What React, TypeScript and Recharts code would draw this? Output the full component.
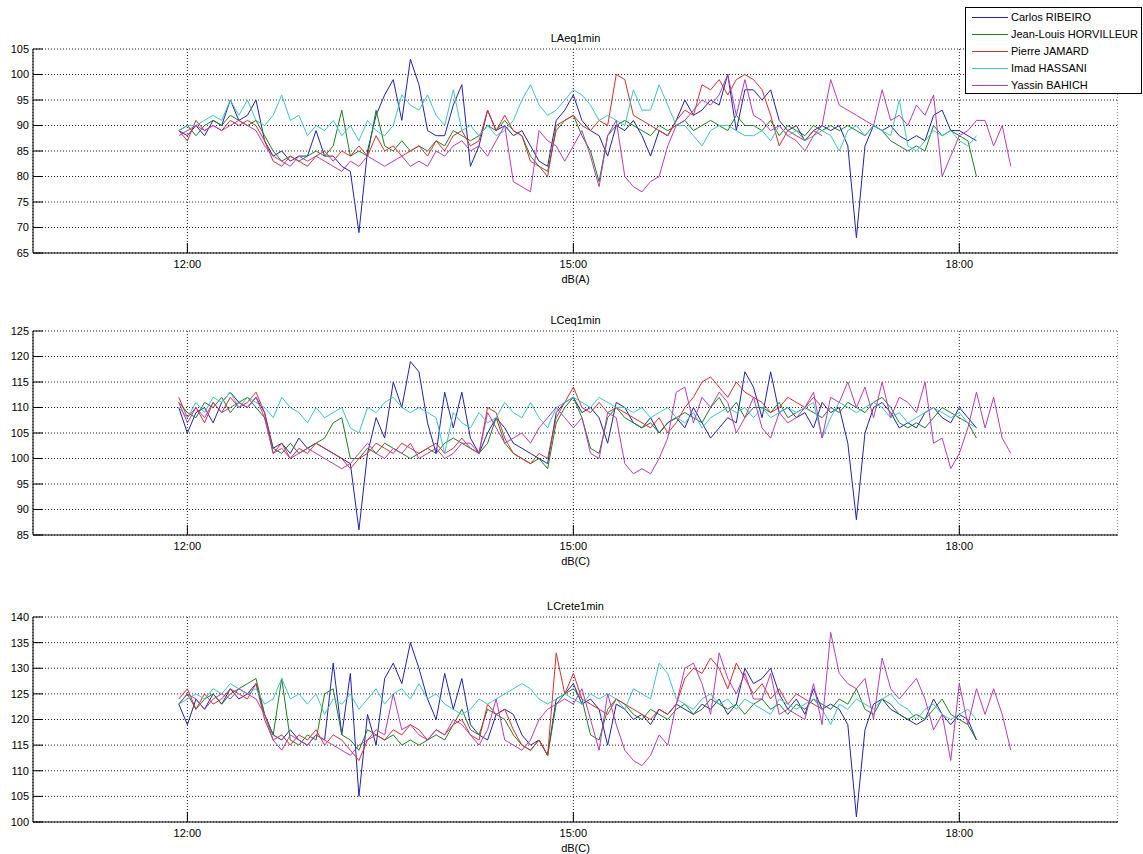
import React from "react";
import { LineChart, Line, XAxis, YAxis, CartesianGrid } from "recharts";

// time axis: minutes since midnight, one reading every 4 min from 11:56
const START_MIN = 716;
const STEP_MIN = 4;
const X_TICKS = [720, 900, 1080];
const X_DOMAIN = [648, 1154];

const LAEQ_TICKS = [65, 70, 75, 80, 85, 90, 95, 100, 105];
const LCEQ_TICKS = [85, 90, 95, 100, 105, 110, 115, 120, 125];
const LCRETE_TICKS = [100, 105, 110, 115, 120, 125, 130, 135, 140];

const SERIES = [
  { key: "carlos", name: "Carlos RIBEIRO", color: "#2222b0" },
  { key: "jeanLouis", name: "Jean-Louis HORVILLEUR", color: "#1f7f1f" },
  { key: "pierre", name: "Pierre JAMARD", color: "#d83030" },
  { key: "imad", name: "Imad HASSANI", color: "#3fc4c4" },
  { key: "yassin", name: "Yassin BAHICH", color: "#b93cb9" },
];

// LAeq1min
const laeqCarlos = [
  89, 88, 90, 88, 91, 90, 95, 91, 92, 95, 87,
  84, 85, 83, 84, 84, 89, 84, 84, 82, 81,
  69, 85, 92, 96, 99, 91, 103, 98, 89, 88, 88, 94, 98,
  82, 86, 93, 89, 90, 88, 89, 86, 83, 82, 91, 93, 96,
  91, 89, 88, 84, 90, 89, 91, 88, 84, 89, 88, 91, 95, 92, 93, 95, 94, 100, 89, 97, 97,
  95, 97, 91, 89, 90, 87, 89, 90, 89, 90, 86, 68, 86, 90, 89, 90, 88, 87, 88, 87, 92, 93, 89, 89, 88, 87,
];
const laeqJeanLouis = [
  89, 90, 88, 90, 91, 90, 92, 91, 90, 91, 88,
  85, 83, 84, 83, 84, 85, 84, 86, 93, 84, 85, 84, 93, 86, 85, 87, 85, 86, 85, 87, 86, 89, 88,
  87, 88, 90, 89, 91, 89, 88, 84, 82, 81, 89, 91, 92,
  88, 85, 79, 88, 90, 91, 90, 89, 88, 90, 89, 90, 91, 89, 90, 91, 90, 89, 92, 90, 90,
  89, 91, 88, 90, 89, 88, 90, 89, 90, 89, 90, 89, 88, 90, 89, 87, 86, 85, 86, 85, 90, 88, 89, 88, 87, 80,
];
const laeqPierre = [
  89, 87, 91, 89, 90, 89, 91, 90, 91, 90, 87,
  83, 82, 84, 83, 82, 84, 85, 83, 85, 84, 86, 84, 88, 85, 86, 84, 85, 86, 84, 87, 85, 88, 89,
  86, 87, 93, 89, 92, 89, 88, 83, 82, 80, 90, 91, 92,
  90, 89, 91, 90, 100, 99, 92, 91, 90, 89, 88, 91, 93, 92, 98, 97, 99, 96, 99, 100, 99,
  97, 92, 86, 89, 88, 87, 89, 88,
];
const laeqImad = [
  89, 90, 90, 91, 92, 91, 95, 92, 95, 91, 90,
  92, 96, 91, 92, 88, 90, 89, 91, 88, 90, 87, 91, 89, 88, 90, 96, 94, 93, 96, 92, 90, 97, 89,
  90, 88, 90, 88, 89, 91, 95, 98, 94, 92, 93, 95, 97,
  96, 94, 91, 92, 91, 90, 97, 93, 93, 98, 94, 90, 90, 88, 86, 89, 90, 90, 89, 88, 88,
  89, 87, 90, 88, 89, 87, 88, 89, 88, 85, 89, 90, 88, 90, 89, 88, 95, 86, 85, 87, 89, 88, 89, 87, 86, 88,
];
const laeqYassin = [
  88, 89, 90, 89, 90, 89, 90, 91, 90, 89, 86,
  84, 83, 82, 84, 83, 84, 83, 82, 81, 83, 82, 84, 83, 82, 83, 84, 82, 83, 82, 85, 84, 86, 87,
  85, 86, 84, 87, 90, 79, 78, 77, 89, 87, 86, 83, 86,
  89, 84, 78, 88, 91, 80, 78, 77, 79, 80, 86, 90, 91, 93, 95, 94, 96, 100, 92, 99, 92,
  91, 89, 90, 88, 87, 85, 88, 90, 99, 94, 93, 92, 91, 90, 97, 91, 92, 90, 94, 92, 96, 80, 84, 88, 89, 91, 91, 86, 90, 82,
];

// LCeq1min
const lceqCarlos = [
  110, 105, 109, 110, 107, 111, 113, 111, 110, 112, 109,
  102, 103, 101, 104, 102, 103, 102, 101, 100, 99, 86, 101, 108, 104, 115, 110, 119, 117, 107, 101, 113, 106, 113,
  104, 101, 105, 108, 106, 103, 102, 101, 100, 99, 109, 111, 112, 109, 110, 108, 103, 111, 110, 107,
  106, 108, 105, 107, 108, 106, 110, 107, 104, 106, 108, 107, 117, 114,
  108, 117, 109, 110, 108, 109, 106, 111, 109, 110, 103, 88, 105, 110, 111, 109, 106, 107, 106, 109, 110, 108, 107, 110, 108, 106,
];
const lceqJeanLouis = [
  111, 109, 108, 111, 110, 112, 109, 111, 112, 110, 108,
  102, 101, 103, 101, 102, 103, 104, 107, 108, 100, 100, 102, 101, 103, 102, 101, 100, 101, 102, 101, 103, 104, 103,
  102, 101, 103, 108, 103, 101, 100, 99, 100, 98, 107, 110, 112, 108, 102, 101, 108, 110, 108, 107,
  106, 107, 105, 107, 108, 109, 108, 107, 110, 112, 109, 111, 108, 110,
  110, 109, 111, 108, 109, 110, 109, 108, 110, 109, 111, 110, 109, 111, 112, 110, 107, 106, 107, 106, 108, 110, 109, 108, 107, 104,
];
const lceqPierre = [
  112, 108, 110, 107, 111, 109, 112, 110, 111, 113, 109,
  101, 103, 100, 102, 101, 103, 102, 101, 100, 98, 100, 101, 103, 102, 101, 103, 102, 101, 102, 103, 101, 102, 104,
  102, 101, 110, 109, 104, 101, 100, 99, 101, 100, 108, 111, 114, 110, 109, 111, 109, 110, 109, 108,
  107, 106, 108, 105, 107, 110, 112, 115, 116, 114, 112, 115, 113, 112,
  111, 109, 110, 112, 111, 110, 112, 110,
];
const lceqImad = [
  110, 108, 111, 109, 112, 111, 113, 110, 112, 111, 110,
  108, 112, 110, 109, 107, 110, 108, 109, 110, 106, 105, 110, 109, 111, 112, 110, 109, 110, 109, 108, 101, 109, 107,
  106, 109, 107, 108, 111, 109, 108, 111, 108, 106, 110, 111, 112, 111, 110, 112, 111, 110, 110, 109,
  110, 108, 109, 110, 108, 107, 109, 106, 108, 109, 110, 109, 110, 108,
  110, 108, 109, 110, 109, 110, 111, 104, 108, 111, 110, 109, 110, 111, 110, 108, 109, 107, 108, 109, 110, 109, 108, 109, 107, 106,
];
const lceqYassin = [
  111, 107, 110, 108, 111, 109, 110, 111, 110, 112, 108,
  101, 102, 100, 101, 102, 101, 100, 99, 98, 99, 101, 103, 101, 100, 102, 101, 103, 100, 101, 102, 100, 101, 103,
  103, 101, 109, 106, 103, 104, 105, 103, 106, 108, 110, 108, 106, 108, 101, 100, 109, 108, 99, 97,
  98, 97, 100, 104, 113, 114, 107, 112, 110, 113, 111, 105, 108, 112,
  106, 104, 109, 107, 108, 110, 113, 104, 112, 111, 115, 110, 114, 108, 115, 108, 112, 111, 109, 115, 103, 104, 98, 101, 106, 113, 106, 112, 104, 101,
];

// LCrete1min
const lcreteCarlos = [
  123, 119, 124, 122, 125, 123, 126, 124, 125, 127, 121,
  117, 116, 118, 116, 115, 117, 116, 131, 117, 129, 105, 121, 115, 128, 131, 127, 135, 130, 124, 120, 129, 122, 128,
  119, 117, 116, 121, 122, 121, 117, 115, 116, 113, 124, 125, 127, 123, 124, 122, 115, 123, 122, 120,
  121, 119, 122, 121, 123, 122, 121, 123, 122, 124, 121, 123, 130, 127,
  128, 130, 125, 122, 124, 121, 126, 122, 123, 122, 119, 101, 118, 123, 124, 122, 121, 120, 119, 120, 124, 121, 119, 121, 120, 116,
];
const lcreteJeanLouis = [
  123, 125, 122, 124, 125, 123, 125, 126, 127, 128, 121,
  117, 128, 116, 115, 117, 116, 125, 126, 117, 116, 114, 118, 117, 116, 117, 115, 116, 115, 116, 117, 116, 119, 122,
  118, 117, 122, 121, 120, 117, 115, 114, 116, 113, 123, 125, 126, 124, 117, 116, 122, 124, 123, 121,
  120, 122, 121, 120, 122, 123, 121, 122, 124, 123, 122, 123, 121, 123,
  124, 122, 123, 121, 123, 122, 124, 123, 122, 124, 123, 126, 122, 121, 124, 123, 121, 120, 121, 120, 122, 124, 121, 120, 119, 116,
];
const lcretePierre = [
  124, 126, 122, 125, 123, 124, 126, 125, 124, 127, 120,
  116, 117, 115, 117, 116, 118, 115, 117, 116, 114, 112, 116, 117, 116, 118, 117, 119, 118, 116, 118, 117, 119, 120,
  117, 116, 123, 121, 122, 118, 115, 114, 116, 113, 133, 125, 129, 124, 123, 122, 121, 124, 123, 122,
  121, 120, 122, 121, 123, 128, 130, 129, 132, 130, 126, 131, 128, 125,
  127, 124, 126, 123, 125, 124, 123, 122,
];
const lcreteImad = [
  123, 124, 125, 124, 126, 125, 127, 126, 125, 126, 123,
  124, 128, 124, 125, 123, 125, 121, 124, 123, 125, 122, 124, 126, 123, 125, 126, 124, 127, 124, 125, 123, 122, 121,
  122, 124, 123, 124, 125, 126, 127, 126, 124, 123, 124, 125, 124, 123, 125, 124, 125, 124, 122, 126,
  125, 124, 131, 129, 124, 123, 122, 124, 125, 123, 124, 122, 124, 123,
  122, 121, 124, 123, 122, 123, 124, 122, 119, 123, 122, 124, 123, 122, 124, 125, 123, 122, 120, 122, 123, 121, 120, 121, 122, 120,
];
const lcreteYassin = [
  123, 125, 124, 122, 124, 125, 124, 126, 125, 124, 121,
  116, 114, 117, 116, 115, 117, 116, 115, 114, 113, 115, 116, 118, 117, 125, 118, 119, 117, 116, 118, 117, 120, 119,
  117, 115, 118, 124, 116, 115, 114, 116, 120, 122, 123, 124, 123, 126, 120, 114, 125, 119, 114, 112,
  111, 113, 117, 115, 123, 130, 131, 127, 121, 133, 128, 125, 129, 124,
  124, 129, 121, 122, 121, 120, 127, 119, 137, 129, 127, 126, 128, 120, 132, 126, 124, 126, 128, 124, 118, 121, 112, 127, 119, 126, 121, 126, 121, 114,
];

const PANELS = [
  {
    title: "LAeq1min",
    unit: "dB(A)",
    top: 49,
    plotH: 204,
    yTicks: LAEQ_TICKS,
    values: [laeqCarlos, laeqJeanLouis, laeqPierre, laeqImad, laeqYassin],
  },
  {
    title: "LCeq1min",
    unit: "dB(C)",
    top: 331,
    plotH: 204,
    yTicks: LCEQ_TICKS,
    values: [lceqCarlos, lceqJeanLouis, lceqPierre, lceqImad, lceqYassin],
  },
  {
    title: "LCrete1min",
    unit: "dB(C)",
    top: 617,
    plotH: 205,
    yTicks: LCRETE_TICKS,
    values: [lcreteCarlos, lcreteJeanLouis, lcretePierre, lcreteImad, lcreteYassin],
  },
];

const FONT = '"Liberation Sans", Arial, Helvetica, sans-serif';
const CHART_W = 1118;
const PLOT_LEFT = 33;
const PAD = 10;
const X_AXIS_H = 40;

const fmtTime = (t: number) => {
  const h = Math.floor(t / 60);
  const m = t % 60;
  return `${h}:${m < 10 ? "0" + m : m}`;
};

function buildRows(values: number[][]) {
  const n = Math.max(...values.map((v) => v.length));
  const rows: Record<string, number | null>[] = [];
  for (let i = 0; i < n; i++) {
    const row: Record<string, number | null> = { t: START_MIN + i * STEP_MIN };
    SERIES.forEach((s, k) => {
      row[s.key] = values[k][i] ?? null;
    });
    rows.push(row);
  }
  return rows;
}

const Panel: React.FC<(typeof PANELS)[number]> = ({ title, unit, top, plotH, yTicks, values }) => {
  const rows = buildRows(values);
  const yDomain = [yTicks[0], yTicks[yTicks.length - 1]];
  const axisStroke = { stroke: "#000" };
  return (
    <>
      <div
        style={{
          position: "absolute",
          left: PLOT_LEFT,
          width: CHART_W - PLOT_LEFT,
          top: top - 17,
          height: 13,
          lineHeight: "13px",
          fontSize: 11,
          textAlign: "center",
          color: "#000",
        }}
      >
        {title}
      </div>
      <div style={{ position: "absolute", left: 0, top: top - PAD }}>
        <LineChart
          width={CHART_W}
          height={PAD + plotH + X_AXIS_H}
          data={rows}
          margin={{ top: PAD, right: 0, bottom: 0, left: 0 }}
        >
          <CartesianGrid stroke="#222" strokeDasharray="1 2" />
          <XAxis
            dataKey="t"
            type="number"
            domain={X_DOMAIN}
            ticks={X_TICKS}
            allowDataOverflow
            tickFormatter={fmtTime}
            height={X_AXIS_H}
            tickSize={-10}
            tickMargin={17}
            axisLine={axisStroke}
            tickLine={axisStroke}
            tick={{ fill: "#000", fontSize: 11, fontFamily: FONT }}
            label={{ value: unit, position: "insideBottom", offset: 10, fill: "#000", fontSize: 11, fontFamily: FONT }}
          />
          <XAxis
            xAxisId="top"
            dataKey="t"
            type="number"
            orientation="top"
            domain={X_DOMAIN}
            ticks={X_TICKS}
            allowDataOverflow
            height={0}
            tickSize={-10}
            tick={false}
            axisLine={axisStroke}
            tickLine={axisStroke}
          />
          <YAxis
            type="number"
            domain={yDomain}
            ticks={yTicks}
            allowDataOverflow
            width={PLOT_LEFT}
            tickSize={-10}
            tickMargin={14}
            axisLine={axisStroke}
            tickLine={axisStroke}
            tick={{ fill: "#000", fontSize: 11, fontFamily: FONT }}
          />
          <YAxis
            yAxisId="right"
            type="number"
            orientation="right"
            domain={yDomain}
            ticks={yTicks}
            allowDataOverflow
            width={0}
            tickSize={-10}
            tick={false}
            axisLine={axisStroke}
            tickLine={axisStroke}
          />
          {SERIES.map((s) => (
            <Line
              key={s.key}
              type="linear"
              dataKey={s.key}
              name={s.name}
              stroke={s.color}
              strokeWidth={1}
              dot={false}
              activeDot={false}
              connectNulls={false}
              isAnimationActive={false}
            />
          ))}
        </LineChart>
      </div>
    </>
  );
};

const Legend: React.FC = () => (
  <div
    style={{
      position: "absolute",
      left: 965,
      top: 7,
      width: 177,
      height: 87,
      border: "1px solid #000",
      background: "#fff",
      paddingTop: 1,
      boxSizing: "border-box",
      zIndex: 5,
    }}
  >
    {SERIES.map((s) => (
      <div key={s.key} style={{ position: "relative", height: 17, display: "flex", alignItems: "center" }}>
        <div style={{ position: "absolute", left: 6, top: 8, width: 36, height: 1, background: s.color }} />
        <span
          style={{
            position: "absolute",
            left: 45,
            top: 2,
            lineHeight: "13px",
            fontSize: 11,
            color: "#000",
            whiteSpace: "nowrap",
          }}
        >
          {s.name}
        </span>
      </div>
    ))}
  </div>
);

export default function App() {
  return (
    <div
      style={{
        position: "absolute",
        left: 0,
        top: 0,
        width: 1143,
        height: 854,
        background: "#fff",
        fontFamily: FONT,
        overflow: "hidden",
      }}
    >
      {PANELS.map((p) => (
        <Panel key={p.title} {...p} />
      ))}
      <Legend />
    </div>
  );
}
